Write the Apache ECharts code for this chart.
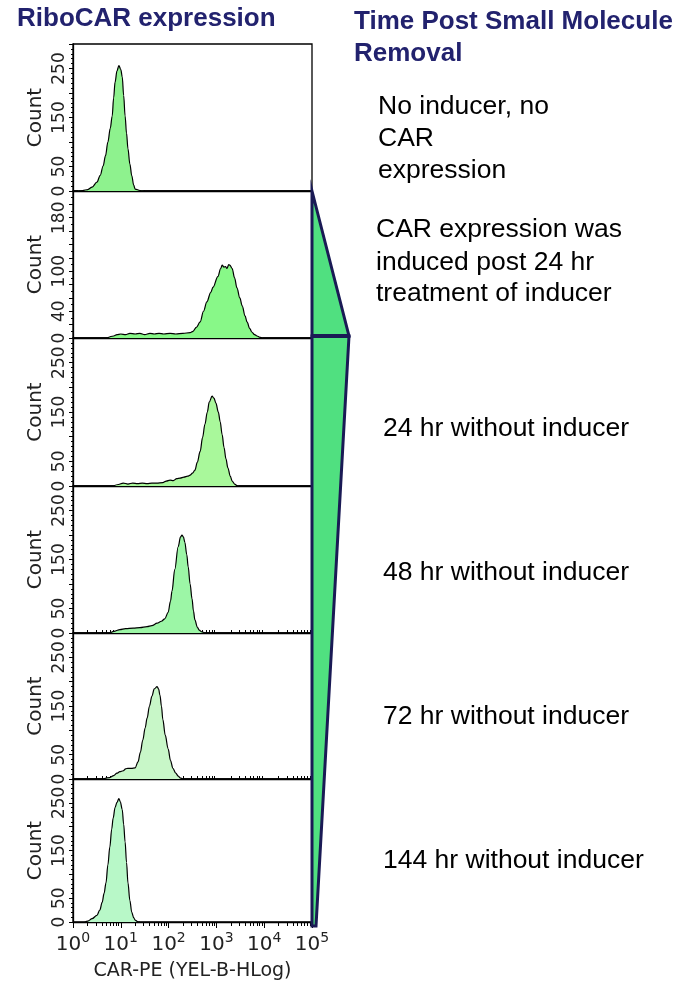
<!DOCTYPE html>
<html><head><meta charset="utf-8">
<script src="https://cdn.jsdelivr.net/npm/echarts@6/dist/echarts.min.js"></script>
<style>html,body{margin:0;padding:0;background:#fff}#c{width:682px;height:982px}</style>
</head><body><div id="c"></div>
<script>
// x values are log10 of CAR-PE fluorescence (decades), y values are event counts
const decades = [0, 1, 2, 3, 4, 5];
const xAxisName = 'CAR-PE (YEL-B-HLog)';
const yAxisName = 'Count';
const panelYMax = [300, 220, 300, 300, 300, 300];
const panelYInterval = [50, 20, 50, 50, 50, 50];
const panelYLabels = [[0, 50, 150, 250], [0, 40, 100, 180], [0, 50, 150, 250], [0, 50, 150, 250], [0, 50, 150, 250], [0, 50, 150, 250]];
const panelFill = ['#8ef28e', '#88f888', '#a9f89b', '#9cf6a6', '#c8f7c8', '#b8f8c8'];
const panelNotes = [
  ['No inducer, no', 'CAR', 'expression'],
  ['CAR expression was', 'induced post 24 hr', 'treatment of inducer'],
  ['24 hr without inducer'],
  ['48 hr without inducer'],
  ['72 hr without inducer'],
  ['144 hr without inducer']
];
const noInducer = [[0.08,0],[0.2,1],[0.31,3],[0.40,8],[0.50,18],[0.57,32],[0.63,51],[0.68,72],[0.73,100],[0.78,128],[0.82,153],[0.85,190],[0.88,222],[0.92,245],[0.96,256],[1.00,248],[1.03,233],[1.06,195],[1.09,153],[1.12,118],[1.15,86],[1.19,55],[1.23,31],[1.27,12],[1.30,4],[1.40,1],[1.5,0]];
const induced24h = [[0.71,0],[0.85,3],[0.92,5],[1.0,6],[1.1,5],[1.19,7],[1.3,6],[1.4,7],[1.5,5],[1.61,7],[1.7,6],[1.8,7],[1.9,6],[2.03,7],[2.15,6],[2.3,7],[2.45,8],[2.51,10],[2.58,16],[2.66,24],[2.73,40],[2.80,54],[2.88,68],[2.93,76],[3.03,92],[3.09,104],[3.12,109],[3.16,106],[3.19,107],[3.22,104],[3.26,110],[3.28,109],[3.33,104],[3.38,90],[3.43,75],[3.49,60],[3.54,48],[3.60,33],[3.64,24],[3.70,14],[3.74,9],[3.80,5],[3.85,3],[3.92,1],[3.97,0]];
const without24h = [[0.84,0],[0.95,3],[1.05,6],[1.15,4],[1.25,6],[1.35,5],[1.45,6],[1.55,5],[1.65,6],[1.75,6],[1.88,7],[1.95,10],[2.03,12],[2.1,11],[2.17,15],[2.24,16],[2.32,18],[2.40,20],[2.45,22],[2.50,26],[2.55,32],[2.60,48],[2.66,70],[2.71,98],[2.76,125],[2.81,150],[2.85,170],[2.91,182],[2.95,178],[2.99,168],[3.04,150],[3.08,130],[3.12,104],[3.16,78],[3.20,55],[3.24,37],[3.29,20],[3.33,10],[3.38,4],[3.43,1],[3.48,0]];
const without48h = [[0.77,0],[0.88,4],[0.98,7],[1.1,9],[1.26,10],[1.4,11],[1.55,13],[1.65,15],[1.76,20],[1.85,24],[1.92,29],[1.99,42],[2.04,65],[2.07,85],[2.13,130],[2.20,176],[2.25,196],[2.28,200],[2.31,196],[2.34,185],[2.38,160],[2.41,135],[2.45,100],[2.49,70],[2.52,45],[2.55,27],[2.60,12],[2.64,6],[2.70,2],[2.76,0]];
const without72h = [[0.63,0],[0.77,3],[0.85,7],[0.92,12],[0.98,15],[1.05,17],[1.10,21],[1.15,22],[1.22,22],[1.30,23],[1.36,35],[1.41,55],[1.46,80],[1.51,105],[1.55,125],[1.60,150],[1.65,170],[1.70,185],[1.76,190],[1.79,185],[1.82,172],[1.85,150],[1.88,122],[1.93,90],[1.99,62],[2.04,38],[2.09,22],[2.15,12],[2.20,6],[2.25,2],[2.30,0]];
const without144h = [[0.25,0],[0.31,2],[0.40,7],[0.50,14],[0.56,25],[0.61,41],[0.65,60],[0.69,82],[0.73,120],[0.77,157],[0.81,195],[0.84,218],[0.88,240],[0.92,251],[0.96,259],[0.99,252],[1.03,236],[1.06,205],[1.09,168],[1.12,125],[1.15,82],[1.19,45],[1.23,20],[1.27,9],[1.30,4],[1.35,1],[1.40,0]];
const panelData = [noInducer, induced24h, without24h, without48h, without72h, without144h];

// layout
const gridLeft = 73, gridWidth = 239;
const gridTops = [44, 191, 338, 486, 633, 779];
const gridHeights = [147, 147, 148, 147, 146, 146];
const noteRows = [[105, 137, 169], [228, 261, 292], [427], [571], [715], [859]];
const noteX = [378, 376, 383, 383, 383, 383];

// log minor tick positions (2..9 within each decade)
const minorTickPos = [];
for (let d = 0; d < 5; d++) for (let k = 2; k <= 9; k++) minorTickPos.push(d + Math.log10(k));

const FONT = 'DejaVu Sans';
const grids = [], xAxes = [], yAxes = [], series = [];
panelData.forEach((data, i) => {
  grids.push({left: gridLeft, width: gridWidth, top: gridTops[i], height: gridHeights[i],
    show: true, borderColor: '#000', borderWidth: 1.3, backgroundColor: 'transparent'});
  const last = i === panelData.length - 1;
  xAxes.push({
    type: 'value', gridIndex: i, min: 0, max: 5, interval: 1,
    axisLine: {show: true, lineStyle: {color: '#000', width: 1.3}},
    splitLine: {show: false},
    axisTick: {show: last, length: 6, lineStyle: {color: '#000', width: 1}},
    axisLabel: {show: last, margin: 9, formatter: v => '{b|10}{s|' + v + '}',
      rich: {b: {fontFamily: FONT, fontSize: 20, color: '#222', lineHeight: 24, verticalAlign: 'bottom'},
             s: {fontFamily: FONT, fontSize: 14, color: '#222', lineHeight: 24, verticalAlign: 'top'}}},
    name: last ? xAxisName : '', nameLocation: 'middle', nameGap: 40,
    nameTextStyle: {fontFamily: FONT, fontSize: 19, color: '#222'}
  });
  yAxes.push({
    type: 'value', gridIndex: i, min: 0, max: panelYMax[i], interval: panelYInterval[i],
    axisLine: {show: true, lineStyle: {color: '#000', width: 1.3}},
    splitLine: {show: false},
    axisTick: {show: true, length: 4, lineStyle: {color: '#000'}},
    minorTick: {show: true, splitNumber: i === 1 ? 2 : 5, length: 2, lineStyle: {color: '#000'}},
    axisLabel: {rotate: 90, margin: 5, fontFamily: FONT, fontSize: 17, color: '#222',
      formatter: v => panelYLabels[i].indexOf(v) >= 0 ? String(v) : ''},
    name: yAxisName, nameLocation: 'middle', nameRotate: 90, nameGap: 27,
    nameTextStyle: {fontFamily: FONT, fontSize: 20, color: '#222'}
  });
  series.push({
    type: 'line', xAxisIndex: i, yAxisIndex: i, data: data, smooth: 0.35, smoothMonotone: 'x',
    symbol: 'none', lineStyle: {color: '#000', width: 1.2},
    areaStyle: {color: panelFill[i], opacity: 1}, silent: true, z: 3
  });
});
// minor log ticks along the shared x axis of bottom panel and panels 4, 5
[3, 4, 5].forEach(gi => {
  xAxes.push({
    type: 'value', gridIndex: gi, min: 0, max: 5, position: 'bottom',
    axisLine: {show: false}, splitLine: {show: false}, axisLabel: {show: false},
    axisTick: {show: true, inside: gi !== 5, length: gi === 5 ? 4 : 3, customValues: minorTickPos, lineStyle: {color: '#000', width: 1}}
  });
});

// graphic decorations: titles, notes, wedge
const NAVY = '#22226e';
const graphics = [];
graphics.push({type: 'text', left: 17, top: 6, style: {text: 'RiboCAR expression', font: 'bold 26px "Liberation Sans", Arial', fill: NAVY}});
graphics.push({type: 'text', left: 354, top: 9, style: {text: 'Time Post Small Molecule', font: 'bold 26px "Liberation Sans", Arial', fill: NAVY}});
graphics.push({type: 'text', left: 354, top: 41, style: {text: 'Removal', font: 'bold 26px "Liberation Sans", Arial', fill: NAVY}});
panelNotes.forEach((lines, i) => {
  lines.forEach((t, j) => {
    graphics.push({type: 'text', left: noteX[i], top: noteRows[i][j] - 12,
      style: {text: t, font: '26.5px "Liberation Sans", Arial', fill: '#000'}});
  });
});
graphics.push({type: 'polygon', shape: {points: [[312, 191], [349, 336], [312, 336]]},
  style: {fill: '#50e080', stroke: '#1a1a55', lineWidth: 3, lineJoin: 'miter'}, z: 10});
graphics.push({type: 'polygon', shape: {points: [[312, 336], [349, 336], [316, 926], [312, 926]]},
  style: {fill: '#50e080', stroke: '#1a1a55', lineWidth: 3}, z: 10});
graphics.push({type: 'rect', shape: {x: 311, y: 334, width: 39, height: 4}, style: {fill: '#1a1a55'}, z: 11});

const chart = echarts.init(document.getElementById('c'), null, {renderer: 'canvas'});
chart.setOption({
  animation: false,
  backgroundColor: '#fff',
  grid: grids, xAxis: xAxes, yAxis: yAxes, series: series,
  graphic: graphics
});
</script></body></html>
